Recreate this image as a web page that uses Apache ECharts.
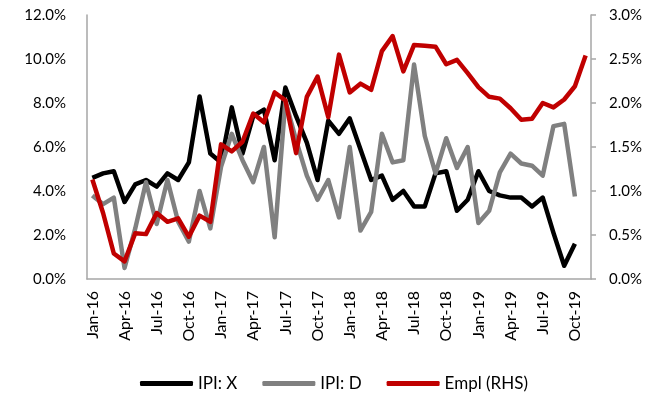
<!DOCTYPE html>
<html>
<head>
<meta charset="utf-8">
<script src="https://cdn.jsdelivr.net/npm/echarts@6/dist/echarts.min.js"></script>
<style>
  html, body { margin: 0; padding: 0; background: #fff; }
  #chart { width: 668px; height: 405px; }
</style>
</head>
<body>
<div id="chart"></div>
<script>
// monthly, Jan-16 .. Nov-19
const months = [
  'Jan-16', 'Feb-16', 'Mar-16', 'Apr-16', 'May-16', 'Jun-16', 'Jul-16', 'Aug-16', 'Sep-16', 'Oct-16', 'Nov-16', 'Dec-16',
  'Jan-17', 'Feb-17', 'Mar-17', 'Apr-17', 'May-17', 'Jun-17', 'Jul-17', 'Aug-17', 'Sep-17', 'Oct-17', 'Nov-17', 'Dec-17',
  'Jan-18', 'Feb-18', 'Mar-18', 'Apr-18', 'May-18', 'Jun-18', 'Jul-18', 'Aug-18', 'Sep-18', 'Oct-18', 'Nov-18', 'Dec-18',
  'Jan-19', 'Feb-19', 'Mar-19', 'Apr-19', 'May-19', 'Jun-19', 'Jul-19', 'Aug-19', 'Sep-19', 'Oct-19', 'Nov-19'
];

// left axis, %
const ipiX = [
  4.6, 4.8, 4.9, 3.5, 4.3, 4.5, 4.2, 4.8, 4.5, 5.3, 8.3, 5.7,
  5.3, 7.8, 5.7, 7.4, 7.7, 5.4, 8.7, 7.4, 6.2, 4.5, 7.2, 6.6,
  7.3, 5.9, 4.5, 4.7, 3.6, 4.0, 3.3, 3.3, 4.8, 4.9, 3.1, 3.6,
  4.9, 4.0, 3.8, 3.7, 3.7, 3.3, 3.7, 2.1, 0.6, 1.6
];
const ipiD = [
  3.8, 3.4, 3.7, 0.5, 2.3, 4.4, 2.5, 4.5, 2.6, 1.7, 4.0, 2.3,
  5.1, 6.6, 5.4, 4.4, 6.0, 1.9, 8.1, 6.3, 4.7, 3.6, 4.5, 2.8,
  6.0, 2.2, 3.05, 6.6, 5.3, 5.4, 9.75, 6.5, 4.8, 6.4, 5.05, 6.0,
  2.55, 3.1, 4.85, 5.7, 5.25, 5.15, 4.7, 6.95, 7.05, 3.75
];
// right axis, %
const empl = [
  1.13, 0.75, 0.29, 0.2, 0.52, 0.51, 0.75, 0.65, 0.69, 0.48, 0.72, 0.65,
  1.53, 1.45, 1.56, 1.88, 1.78, 2.12, 2.03, 1.43, 2.07, 2.3, 1.84, 2.55,
  2.12, 2.22, 2.15, 2.59, 2.76, 2.36, 2.66, 2.65, 2.64, 2.44, 2.49, 2.34,
  2.18, 2.07, 2.05, 1.94, 1.81, 1.82, 2.0, 1.95, 2.04, 2.19, 2.54
];

const seriesNames = ['IPI: X', 'IPI: D', 'Empl (RHS)'];
const colors = ['#000000', '#808080', '#c00000'];
const axisColor = '#a6a6a6';
const fontFamily = 'Lato, "Liberation Sans", sans-serif';

let myChart = echarts.init(document.getElementById('chart'), null, { renderer: 'canvas' });

function line(name, data, color, yIdx) {
  return {
    name: name,
    type: 'line',
    yAxisIndex: yIdx,
    data: data,
    symbol: 'none',
    color: color,
    lineStyle: { width: 4.5, color: color, join: 'round' },
    animation: false
  };
}

let option = {
  animation: false,
  textStyle: { fontFamily: fontFamily },
  grid: { left: 87, right: 77, top: 15, bottom: 126 },
  legend: {
    bottom: 8,
    left: 'center',
    icon: 'roundRect',
    itemWidth: 53,
    itemHeight: 5,
    itemGap: 25,
    textStyle: { fontSize: 17, color: '#000', fontFamily: fontFamily },
    data: seriesNames
  },
  xAxis: {
    type: 'category',
    data: months,
    boundaryGap: true,
    axisLine: { lineStyle: { color: axisColor, width: 1.5 } },
    axisTick: { show: false },
    axisLabel: {
      interval: 2,
      rotate: 90,
      margin: 12,
      fontSize: 16,
      color: '#000'
    }
  },
  yAxis: [
    {
      type: 'value',
      min: 0,
      max: 12,
      interval: 2,
      axisLine: { show: true, lineStyle: { color: axisColor, width: 1.5 } },
      axisTick: { show: false },
      splitLine: { show: false },
      axisLabel: {
        margin: 21,
        fontSize: 15,
        color: '#000',
        formatter: v => v.toFixed(1) + '%'
      }
    },
    {
      type: 'value',
      min: 0,
      max: 3,
      interval: 0.5,
      position: 'right',
      axisLine: { show: true, lineStyle: { color: axisColor, width: 1.5 } },
      axisTick: { show: true, length: 5, lineStyle: { color: axisColor, width: 1.5 } },
      splitLine: { show: false },
      axisLabel: {
        margin: 18,
        fontSize: 15,
        color: '#000',
        formatter: v => v.toFixed(1) + '%'
      }
    }
  ],
  series: [
    line(seriesNames[0], ipiX, colors[0], 0),
    line(seriesNames[1], ipiD, colors[1], 0),
    line(seriesNames[2], empl, colors[2], 1)
  ]
};

myChart.setOption(option);
</script>
</body>
</html>
